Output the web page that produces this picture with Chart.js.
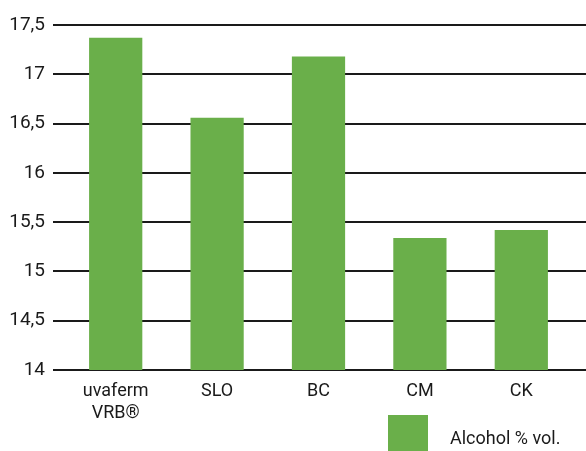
<!DOCTYPE html>
<html>
<head>
<meta charset="utf-8">
<script src="https://cdn.jsdelivr.net/npm/chart.js@4/dist/chart.umd.min.js"></script>
<style>
  html, body { margin: 0; padding: 0; background: #ffffff; }
  #wrap { width: 586px; height: 451px; position: relative; }
</style>
</head>
<body>
<div id="wrap"><canvas id="c"></canvas></div>
<script>
const categories = [["uvaferm", "VRB®"], "SLO", "BC", "CM", "CK"];
const alcohol = [17.37, 16.56, 17.18, 15.34, 15.42];
const seriesLabel = "Alcohol % vol.";
const yMin = 14, yMax = 17.5, yStep = 0.5;

const FONT = "Roboto, 'Liberation Sans', sans-serif";
const GREEN = "#6aaf4a";
const INK = "#1a1a1a";

const legendPlugin = {
  id: 'sideLegend',
  afterDraw(chart) {
    const ctx = chart.ctx;
    const ds = chart.data.datasets[0];
    const a = chart.chartArea;
    const bx = a.right - 184, by = a.bottom + 45;
    ctx.save();
    ctx.fillStyle = ds.backgroundColor;
    ctx.fillRect(bx, by, 40, 36);
    ctx.fillStyle = INK;
    ctx.font = "18px " + FONT;
    ctx.textBaseline = 'alphabetic';
    ctx.textAlign = 'left';
    ctx.fillText(ds.label, bx + 62, by + 29);
    ctx.restore();
  }
};

new Chart(document.getElementById('c'), {
  type: 'bar',
  data: {
    labels: categories,
    datasets: [{
      label: seriesLabel,
      data: alcohol,
      backgroundColor: GREEN,
      borderWidth: 0,
      barPercentage: 0.525,
      categoryPercentage: 1
    }]
  },
  options: {
    responsive: true,
    maintainAspectRatio: false,
    animation: false,
    layout: { padding: { top: 25, bottom: 0, left: 0, right: 0 } },
    plugins: { legend: { display: false }, tooltip: { enabled: false } },
    scales: {
      x: {
        grid: { display: false },
        border: { display: false },
        ticks: {
          color: INK,
          font: { family: FONT, size: 18, lineHeight: 1.2 },
          padding: 3,
          maxRotation: 0,
          autoSkip: false
        },
        afterFit(s) { s.height = 81; }
      },
      y: {
        min: yMin, max: yMax,
        border: { display: false },
        grid: { color: INK, lineWidth: 2, tickLength: 12, drawTicks: true },
        ticks: {
          stepSize: yStep,
          color: INK,
          padding: 8,
          font: { family: FONT, size: 19 },
          callback: v => String(v).replace('.', ',')
        },
        afterFit(s) { s.width = 65; }
      },
      y2: {
        position: 'right',
        min: yMin, max: yMax,
        border: { display: false },
        grid: { color: INK, lineWidth: 2, tickLength: 14, drawOnChartArea: false, drawTicks: true },
        ticks: { stepSize: yStep, display: false },
        afterFit(s) { s.width = 14; }
      }
    }
  },
  plugins: [legendPlugin]
});
</script>
</body>
</html>
